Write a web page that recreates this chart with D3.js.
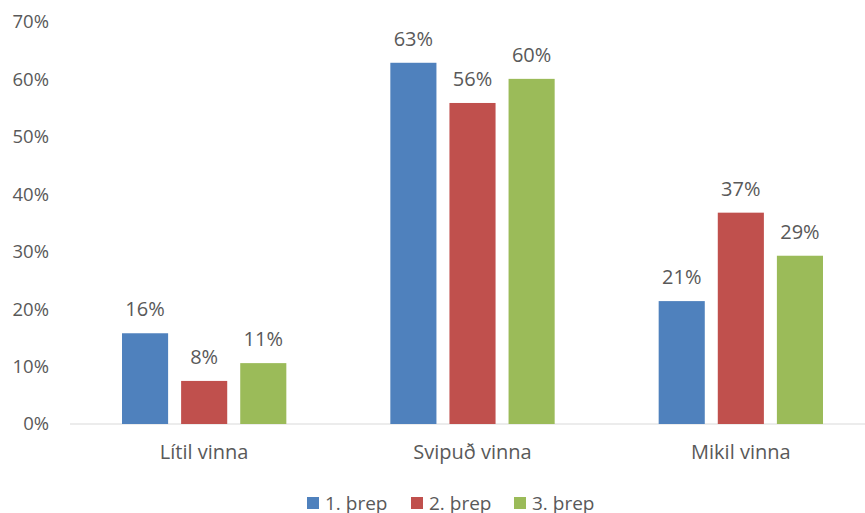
<!DOCTYPE html>
<html lang="is">
<head>
<meta charset="UTF-8">
<title>Vinna eftir þrepum</title>
<script src="https://d3js.org/d3.v7.min.js"></script>
<style>
body { margin: 0; background: #fff; }
svg text { font-family: 'Open Sans', 'Liberation Sans', sans-serif; fill: #595959; }
</style>
</head>
<body>
<svg id="chart" width="865" height="513"></svg>
<script>
var categories = ["Lítil vinna", "Svipuð vinna", "Mikil vinna"];
var seriesNames = ["1. þrep", "2. þrep", "3. þrep"];
var seriesColors = ["#4f81bd", "#c0504d", "#9bbb59"];
// values in %, one array per series
var threp1 = [15.8, 62.9, 21.4];
var threp2 = [7.5, 55.9, 36.8];
var threp3 = [10.6, 60.1, 29.3];
var yTicks = [0, 10, 20, 30, 40, 50, 60, 70];

var series = [threp1, threp2, threp3];

var svg = d3.select("#chart");
var margin = {left: 70, right: -10, top: 22, bottom: 89};
var width = 865 - margin.left - margin.right,
    height = 513 - margin.top - margin.bottom;

var g = svg.append("g").attr("transform", "translate(" + margin.left + "," + margin.top + ")");

var x = d3.scaleBand().domain(categories).range([0, width]).paddingInner(0).paddingOuter(0);
var x1 = d3.scaleBand().domain(d3.range(series.length)).range([52, x.bandwidth() - 52]).paddingInner(0.22);
var y = d3.scaleLinear().domain([0, 70]).range([height, 0]);

// y axis labels (no line)
g.selectAll(".ytick").data(yTicks).enter().append("text")
  .attr("class", "ytick")
  .attr("x", -21)
  .attr("y", function (d) { return y(d); })
  .attr("dy", "0.35em")
  .attr("text-anchor", "end")
  .style("font-size", "18.5px")
  .text(function (d) { return d + "%"; });

// baseline
g.append("line")
  .attr("x1", 0).attr("x2", width)
  .attr("y1", y(0)).attr("y2", y(0))
  .attr("stroke", "#d9d9d9").attr("stroke-width", 1);

var cat = g.selectAll(".cat").data(categories).enter().append("g")
  .attr("class", "cat")
  .attr("transform", function (d) { return "translate(" + x(d) + ",0)"; });

cat.each(function (c, ci) {
  var sel = d3.select(this);
  series.forEach(function (s, si) {
    sel.append("rect")
      .attr("x", x1(si))
      .attr("y", y(s[ci]))
      .attr("width", x1.bandwidth())
      .attr("height", y(0) - y(s[ci]))
      .attr("fill", seriesColors[si]);
    sel.append("text")
      .attr("x", x1(si) + x1.bandwidth() / 2)
      .attr("y", y(s[ci]) - 17)
      .attr("text-anchor", "middle")
      .style("font-size", "20px")
      .text(Math.round(s[ci]) + "%");
  });
  sel.append("text")
    .attr("x", x.bandwidth() / 2)
    .attr("y", y(0) + 35)
    .attr("text-anchor", "middle")
    .style("font-size", "20px")
    .text(c);
});

// legend
var legend = svg.append("g").attr("transform", "translate(307,503)");
var legX = [0, 104, 207];
seriesNames.forEach(function (n, i) {
  var lg = legend.append("g").attr("transform", "translate(" + legX[i] + ",0)");
  lg.append("rect").attr("x", 0).attr("y", -6).attr("width", 12).attr("height", 12).attr("fill", seriesColors[i]);
  lg.append("text").attr("x", 18).attr("y", 0).attr("dy", "0.35em").style("font-size", "19px").text(n);
});
</script>
</body>
</html>
